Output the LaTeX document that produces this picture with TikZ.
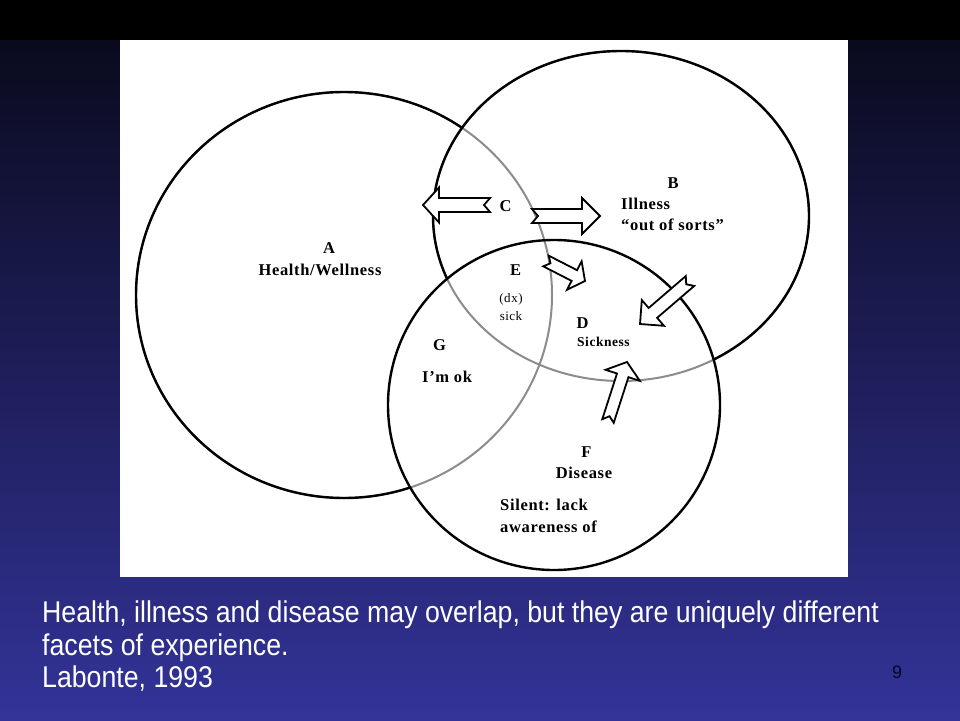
\documentclass[tikz,border=0pt]{standalone}
\usepackage{graphicx}
\usepackage{fontspec}
\setmainfont{Liberation Serif}
\newfontfamily\capfont{Liberation Sans}
\newfontfamily\lblfont[LetterSpace=4]{Liberation Serif}
\usetikzlibrary{calc}
\definecolor{bgtop}{RGB}{10,10,30}
\definecolor{bgmid}{RGB}{30,30,95}
\definecolor{bgbot}{RGB}{51,51,153}
\definecolor{pagenum}{RGB}{5,5,40}
\tikzset{
  invclip/.style={clip,insert path={(-3000,-3000) rectangle (4000,4000)}},
  blackline/.style={draw=black,line width=2.4pt},
  grayline/.style={draw=black!45,line width=2pt},
  arrowbox/.style={draw=black,fill=white,line width=1.8pt,line join=miter},
  lbl/.style={font=\lblfont\bfseries\fontsize{16.5}{18}\selectfont,inner sep=0pt,anchor=base},
  lblw/.style={lbl,anchor=base west},
  smalllbl/.style={font=\lblfont\fontsize{13}{15}\selectfont,inner sep=0pt,anchor=base},
  captext/.style={font=\capfont\fontsize{30}{32}\selectfont,text=white,inner sep=0pt,anchor=base west},
}
\newcommand\blockarr[5]{%
  \coordinate (#1-h) at ($(#1-p)!#4!(#1-t)$);
  \draw[arrowbox] ($(#1-t)!#2!90:(#1-p)$) -- ($(#1-h)!#2!90:(#1-p)$)
    -- ($(#1-h)!#3!90:(#1-p)$) -- (#1-p) -- ($(#1-h)!#3!-90:(#1-p)$)
    -- ($(#1-h)!#2!-90:(#1-p)$) -- ($(#1-t)!#2!-90:(#1-p)$)
    -- ($(#1-t)!#5!(#1-p)$) -- cycle;}
\newcommand\narrowtext[1]{\scalebox{0.89}[1]{#1}}
\begin{document}
\begin{tikzpicture}[x=1pt,y=-1pt]
\useasboundingbox (0,0) rectangle (960,720);
\fill[black] (0,0) rectangle (960,40);
\shade[top color=bgtop, middle color=bgmid, bottom color=bgbot] (0,40) rectangle (960,720);
\fill[white] (120,40) rectangle (848,577);
% circles
\coordinate (cA) at (344,295);
\coordinate (cB) at (621,216);
\coordinate (cC) at (554,405);
\draw[grayline] (cA) ellipse [x radius=208, y radius=203];
\draw[grayline] (cB) ellipse [x radius=188, y radius=165];
\begin{scope}
  \path[invclip] (cB) ellipse [x radius=188, y radius=165];
  \path[invclip] (cC) ellipse [x radius=166, y radius=165];
  \draw[blackline] (cA) ellipse [x radius=208, y radius=203];
\end{scope}
\begin{scope}
  \path[invclip] (cC) ellipse [x radius=166, y radius=165];
  \draw[blackline] (cB) ellipse [x radius=188, y radius=165];
\end{scope}
\draw[blackline] (cC) ellipse [x radius=166, y radius=165];
% arrows
\coordinate (L-t) at (490,205); \coordinate (L-p) at (423,205);
\blockarr{L}{7pt}{17.5pt}{16pt}{6pt}
\coordinate (R-t) at (532,216); \coordinate (R-p) at (600,216);
\blockarr{R}{7pt}{18pt}{18pt}{6pt}
\coordinate (E-t) at (546,261); \coordinate (E-p) at (585,281);
\blockarr{E}{6pt}{16pt}{12pt}{5pt}
\coordinate (D-t) at (690,281); \coordinate (D-p) at (640,324);
\blockarr{D}{6.5pt}{17pt}{17pt}{5pt}
\coordinate (F-t) at (608,421); \coordinate (F-p) at (627,362);
\blockarr{F}{6pt}{18pt}{14pt}{5pt}
% labels
\node[lbl] (la) at (329,253) {A};
\node[lbl] (lhw) at (320,275) {Health/Wellness};
\node[lbl] (lb) at (673,188) {B};
\node[lblw] (lill) at (621,209) {Illness};
\node[lblw] (lout) at (621,230) {“out of sorts”};
\node[lbl] (lc) at (505.5,211) {C};
\node[lbl] (le) at (515.5,275) {E};
\node[smalllbl] (ldx) at (511,302) {(dx)};
\node[smalllbl] (lsick) at (511,320) {sick};
\node[lbl] (ld) at (582.5,328) {D};
\node[lblw,font=\lblfont\bfseries\fontsize{13.5}{15}\selectfont] (lsk) at (577,346) {Sickness};
\node[lbl] (lg) at (439.5,350) {G};
\node[lblw] (lok) at (422,382) {I’m ok};
\node[lbl] (lf) at (586.5,457) {F};
\node[lbl] (ldis) at (584,478) {Disease};
\node[lblw] (lsil) at (500,510) {Silent: lack};
\node[lblw] (law) at (500,532) {awareness of};
% caption
\node[captext] (c1) at (42,622) {\narrowtext{Health, illness and disease may overlap, but they are uniquely different}};
\node[captext] (c2) at (42,655) {\narrowtext{facets of experience.}};
\node[captext] (c3) at (42,687) {\narrowtext{Labonte, 1993}};
\node[font=\capfont\fontsize{18}{20}\selectfont,text=pagenum,inner sep=0pt,anchor=base] (pn) at (897,678) {9};
\end{tikzpicture}
\end{document}
